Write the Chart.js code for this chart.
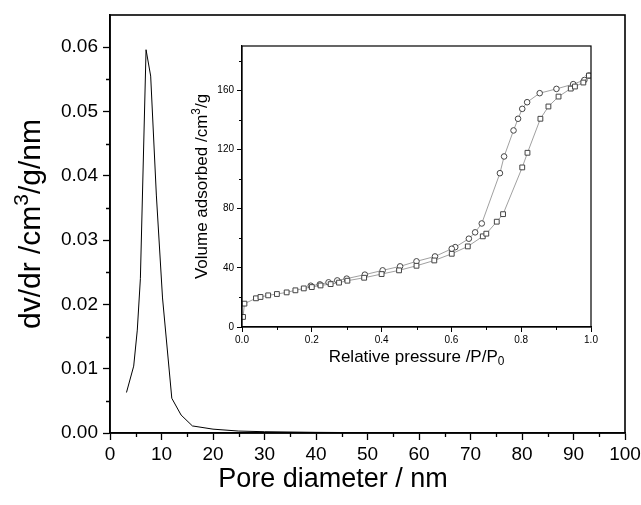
<!DOCTYPE html>
<html>
<head>
<meta charset="utf-8">
<script src="https://cdn.jsdelivr.net/npm/chart.js@4.4.1/dist/chart.umd.min.js"></script>
<style>
  html, body { margin: 0; padding: 0; background: #fff; }
  #wrap { position: relative; width: 641px; height: 505px; }
  #main { position: absolute; left: 0; top: 0; }
  #inset { position: absolute; left: 180px; top: 30px; }
</style>
</head>
<body>
<div id="wrap">
  <canvas id="main" width="641" height="505"></canvas>
  <canvas id="inset" width="430" height="345"></canvas>
</div>
<script>
// pore size distribution (main plot)
const poreDiameter = [3.2, 4.6, 5.3, 5.9, 7.0, 7.9, 9.0, 10.2, 12.0, 13.8, 16.0, 20.0, 25, 30, 40, 50, 63];
const dvdr = [0.0063, 0.0104, 0.016, 0.024, 0.0596, 0.0555, 0.037, 0.021, 0.0054, 0.0028, 0.0011, 0.0006, 0.0003, 0.0002, 0.0001, 0.00005, 0.00002];

// isotherm (inset)
const pAds = [0.003, 0.007, 0.04, 0.053, 0.075, 0.10, 0.128, 0.153, 0.177, 0.20, 0.225, 0.254, 0.278, 0.302, 0.35, 0.40, 0.45, 0.50, 0.551, 0.601, 0.647, 0.69, 0.70, 0.73, 0.748, 0.803, 0.818, 0.855, 0.878, 0.907, 0.942, 0.954, 0.978, 0.994];
const vAds = [6.8, 15.8, 19.4, 20.3, 21.4, 22.3, 23.4, 24.8, 26.1, 27.0, 28.1, 29.0, 30.0, 31.3, 33.3, 35.8, 38.3, 41.4, 45.0, 49.5, 54.5, 61.3, 63.1, 71.2, 76.3, 107.9, 117.8, 140.8, 149.1, 155.8, 161.2, 162.6, 165.3, 170.0];
const pDes = [0.994, 0.981, 0.949, 0.901, 0.853, 0.817, 0.803, 0.791, 0.778, 0.751, 0.739, 0.687, 0.668, 0.65, 0.611, 0.601, 0.553, 0.50, 0.453, 0.403, 0.352, 0.30, 0.273, 0.248, 0.223, 0.197];
const vDes = [170.0, 167.0, 164.2, 161.0, 158.1, 152.0, 147.5, 140.8, 132.9, 115.3, 104.0, 70.0, 64.0, 59.7, 54.0, 52.9, 47.7, 44.4, 41.0, 38.3, 35.4, 32.7, 31.5, 30.2, 28.8, 27.9];

const FONT = "'Liberation Sans', Arial, sans-serif";

const toXY = (xs, ys) => xs.map((x, i) => ({ x: x, y: ys[i] }));

// text with super/subscript parts, centred on (cx, cy), optionally rotated
function richText(ctx, parts, cx, cy, size, rot) {
  ctx.save();
  ctx.translate(cx, cy);
  ctx.rotate(rot || 0);
  ctx.fillStyle = '#000';
  ctx.textBaseline = 'middle';
  ctx.textAlign = 'left';
  let w = 0;
  parts.forEach(p => {
    ctx.font = (p.s ? size * 0.7 : size) + 'px ' + FONT;
    w += ctx.measureText(p.t).width;
  });
  let x = -w / 2;
  parts.forEach(p => {
    ctx.font = (p.s ? size * 0.7 : size) + 'px ' + FONT;
    const dy = p.s === 'sup' ? -size * 0.32 : p.s === 'sub' ? size * 0.25 : 0;
    ctx.fillText(p.t, x, dy);
    x += ctx.measureText(p.t).width;
  });
  ctx.restore();
}

// draws the box around the plot area, the short minor ticks and the axis titles
const frameMinor = {
  id: 'frameMinor',
  afterDraw(chart, args, opts) {
    const { ctx, chartArea: a } = chart;
    const x = chart.scales.x, y = chart.scales.y;
    ctx.save();
    ctx.strokeStyle = '#000';
    ctx.lineWidth = opts.frameWidth;
    ctx.strokeRect(a.left, a.top, a.right - a.left, a.bottom - a.top);
    ctx.lineWidth = opts.tickWidth;
    ctx.beginPath();
    for (let v = x.min + opts.xMinor; v < x.max; v += opts.xMinor * 2) {
      const px = Math.round(x.getPixelForValue(v)) + 0.5;
      ctx.moveTo(px, a.bottom);
      ctx.lineTo(px, a.bottom + opts.minorLen);
    }
    for (let v = y.min + opts.yMinor; v < y.max; v += opts.yMinor * 2) {
      const py = Math.round(y.getPixelForValue(v)) + 0.5;
      ctx.moveTo(a.left, py);
      ctx.lineTo(a.left - opts.minorLen, py);
    }
    ctx.stroke();
    ctx.restore();
    const t = opts.titles;
    richText(ctx, t.x, x.getPixelForValue(t.xAt), a.bottom + t.xOff, t.xSize, 0);
    richText(ctx, t.y, a.left - t.yOff, y.getPixelForValue(t.yAt), t.ySize, -Math.PI / 2);
  }
};

new Chart(document.getElementById('main'), {
  type: 'line',
  data: {
    datasets: [{
      data: toXY(poreDiameter, dvdr),
      borderColor: '#000',
      borderWidth: 1,
      pointRadius: 0,
      tension: 0,
      fill: false
    }]
  },
  options: {
    responsive: false,
    animation: false,
    layout: { padding: { left: 0, top: 15, right: 16, bottom: 0 } },
    plugins: {
      legend: { display: false },
      tooltip: { enabled: false },
      frameMinor: {
        frameWidth: 1.6, tickWidth: 1.3, minorLen: 4, xMinor: 5, yMinor: 0.005,
        titles: {
          xSize: 27, ySize: 30,
          x: [{ t: 'Pore diameter / nm' }], xAt: 43.3, xOff: 47,
          y: [{ t: 'dv/dr /cm' }, { t: '3', s: 'sup' }, { t: '/g/nm' }], yAt: 0.0325, yOff: 78
        }
      }
    },
    scales: {
      x: {
        type: 'linear', min: 0, max: 100,
        ticks: { stepSize: 10, includeBounds: false, autoSkip: false, maxRotation: 0, padding: 3, color: '#000', font: { family: FONT, size: 19 } },
        grid: { drawOnChartArea: false, tickLength: 7, tickWidth: 1.3, tickColor: '#000' },
        border: { display: true, color: '#000', width: 1.6 },
        afterFit(s) { s.height = 72; s.paddingLeft = 0; s.paddingRight = 0; }
      },
      y: {
        type: 'linear', min: 0, max: 0.065,
        ticks: { stepSize: 0.01, includeBounds: false, autoSkip: false, padding: 5, color: '#000', font: { family: FONT, size: 19 }, callback: v => v.toFixed(2) },
        grid: { drawOnChartArea: false, tickLength: 7, tickWidth: 1.3, tickColor: '#000' },
        border: { display: true, color: '#000', width: 1.6 },
        afterFit(s) { s.width = 110; s.paddingTop = 0; s.paddingBottom = 0; }
      }
    }
  },
  plugins: [frameMinor]
});

new Chart(document.getElementById('inset'), {
  type: 'line',
  data: {
    datasets: [{
      data: toXY(pAds, vAds),
      borderColor: '#777',
      borderWidth: 0.7,
      pointStyle: 'rect',
      pointRadius: 3.4,
      pointBorderColor: '#444',
      pointBorderWidth: 1,
      pointBackgroundColor: '#fff',
      tension: 0
    }, {
      data: toXY(pDes, vDes),
      borderColor: '#777',
      borderWidth: 0.7,
      pointStyle: 'circle',
      pointRadius: 2.8,
      pointBorderColor: '#444',
      pointBorderWidth: 1,
      pointBackgroundColor: '#fff',
      tension: 0
    }]
  },
  options: {
    responsive: false,
    animation: false,
    layout: { padding: { left: 0, top: 16, right: 19, bottom: 0 } },
    plugins: {
      legend: { display: false },
      tooltip: { enabled: false },
      frameMinor: {
        frameWidth: 1.2, tickWidth: 1, minorLen: 3, xMinor: 0.1, yMinor: 20,
        titles: {
          xSize: 17, ySize: 17,
          x: [{ t: 'Relative pressure /P/P' }, { t: '0', s: 'sub' }], xAt: 0.5, xOff: 30,
          y: [{ t: 'Volume adsorbed /cm' }, { t: '3', s: 'sup' }, { t: '/g' }], yAt: 95, yOff: 40
        }
      }
    },
    scales: {
      x: {
        type: 'linear', min: 0, max: 1,
        ticks: { stepSize: 0.2, includeBounds: false, autoSkip: false, maxRotation: 0, padding: 2, color: '#000', font: { family: FONT, size: 10 }, callback: v => v.toFixed(1) },
        grid: { drawOnChartArea: false, tickLength: 5, tickWidth: 1, tickColor: '#000' },
        border: { display: true, color: '#000', width: 1.2 },
        afterFit(s) { s.height = 48; s.paddingLeft = 0; s.paddingRight = 0; }
      },
      y: {
        type: 'linear', min: 0, max: 190,
        ticks: { stepSize: 40, includeBounds: false, autoSkip: false, padding: 3, color: '#000', font: { family: FONT, size: 10 } },
        grid: { drawOnChartArea: false, tickLength: 5, tickWidth: 1, tickColor: '#000' },
        border: { display: true, color: '#000', width: 1.2 },
        afterFit(s) { s.width = 62; s.paddingTop = 0; s.paddingBottom = 0; }
      }
    }
  },
  plugins: [frameMinor]
});
</script>
</body>
</html>
